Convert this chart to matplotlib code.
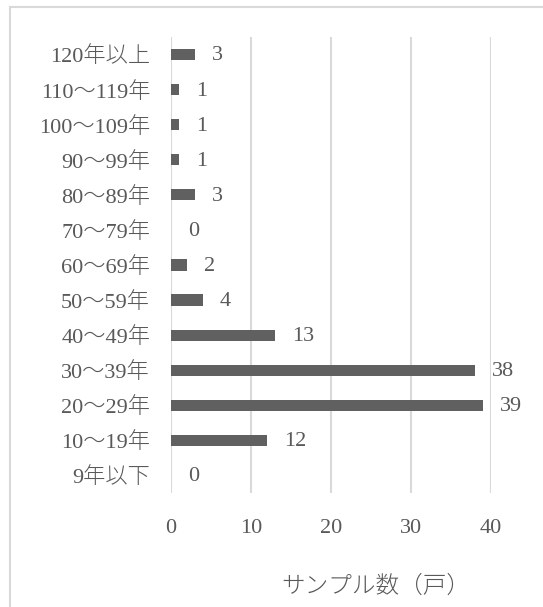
import matplotlib
matplotlib.use("Agg")
import matplotlib.pyplot as plt
from matplotlib.lines import Line2D

plt.rcParams['font.family'] = ['Liberation Serif', 'Noto Sans CJK JP']
plt.rcParams['font.weight'] = 'light'

# categories listed bottom to top
categories = ['9年以下', '10～19年', '20～29年', '30～39年', '40～49年',
              '50～59年', '60～69年', '70～79年', '80～89年', '90～99年',
              '100～109年', '110～119年', '120年以上']
counts = [0, 12, 39, 38, 13, 4, 2, 0, 3, 1, 1, 1, 3]
x_ticks = [0, 10, 20, 30, 40]

W, H = 543, 607
text_color = '#595959'
grid_color = '#d9d9d9'
bar_color = '#606060'

fig = plt.figure(figsize=(W / 100, H / 100), dpi=100)
ax = fig.add_axes([171 / W, 1 - 493 / H, 320 / W, 456 / H])

y = list(range(len(categories)))
ax.barh(y, counts, height=0.32, color=bar_color, zorder=3)

for yi, v in zip(y, counts):
    ax.annotate(str(v), (v, yi), xytext=(12, -1), textcoords='offset points',
                ha='left', va='center', fontsize=16, color=text_color)

ax.set_xlim(0, 40)
ax.set_ylim(-0.5, len(categories) - 0.5)
ax.set_xticks(x_ticks)
ax.set_yticks(y)
ax.set_yticklabels(categories)
ax.tick_params(axis='both', length=0, labelsize=16, labelcolor=text_color)
ax.tick_params(axis='x', pad=19)
ax.tick_params(axis='y', pad=15)
ax.grid(axis='x', color=grid_color, linewidth=1.5, zorder=0)
for s in ax.spines.values():
    s.set_visible(False)

fig.text(376 / W, 1 - 587 / H, 'サンプル数（戸）', ha='center', va='center',
         fontsize=17, color=text_color)

# chart frame
fig.add_artist(Line2D([10 / W, 10 / W], [0, 1 - 7 / H], color=grid_color,
                      linewidth=1.5, transform=fig.transFigure))
fig.add_artist(Line2D([10 / W, 1], [1 - 7 / H, 1 - 7 / H], color=grid_color,
                      linewidth=1.5, transform=fig.transFigure))

fig.savefig('out.png', dpi=100)
